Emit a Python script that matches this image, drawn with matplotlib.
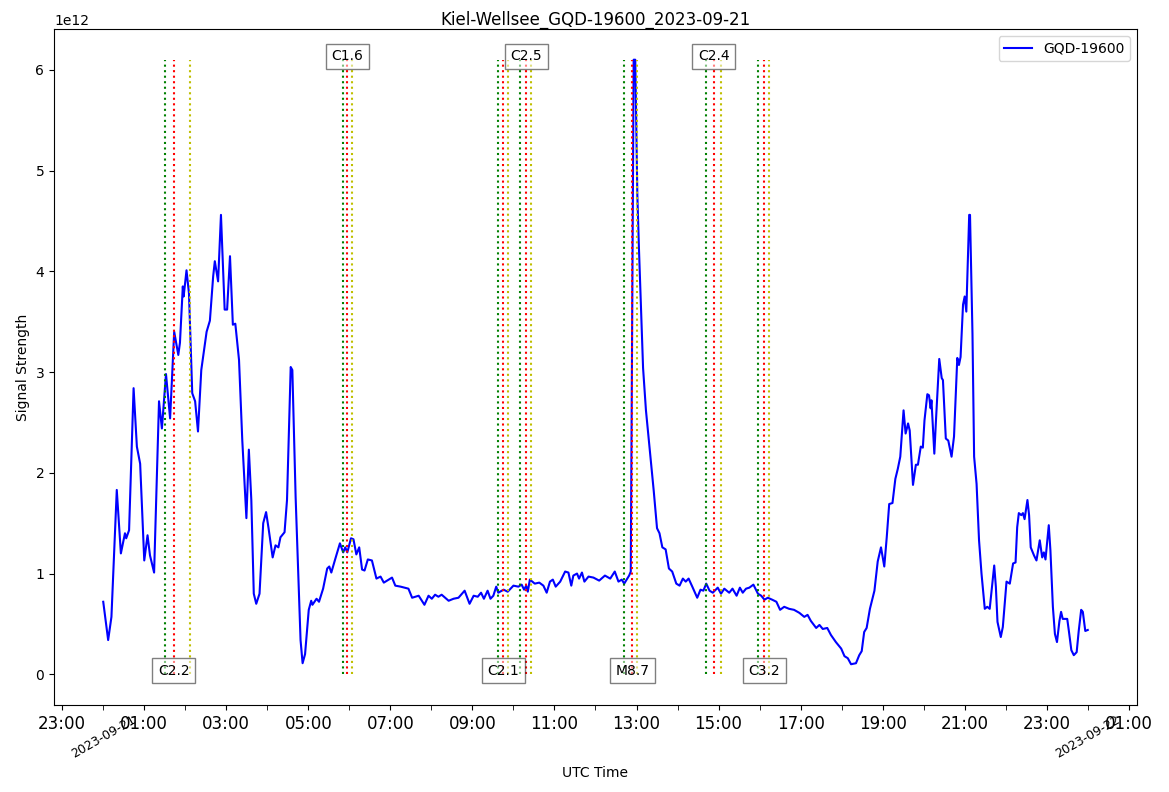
import matplotlib
matplotlib.use("Agg")
import matplotlib.pyplot as plt
import matplotlib.dates as mdates
from matplotlib.ticker import FuncFormatter
from datetime import datetime, timedelta

station = "Kiel-Wellsee"
transmitter = "GQD-19600"
day = datetime(2023, 9, 21)

# hours after midnight UTC and signal strength (x 1e12)
hours = [
    0.00, 0.12, 0.20, 0.33, 0.43, 0.53, 0.56, 0.63, 0.74, 0.82, 0.90, 1.00,
    1.08, 1.14, 1.24, 1.36, 1.43, 1.53, 1.63, 1.73, 1.83, 1.87, 1.94, 1.96,
    2.03, 2.09, 2.17, 2.24, 2.31, 2.39, 2.52, 2.60, 2.68, 2.72, 2.80, 2.87,
    2.96, 3.02, 3.09, 3.16, 3.22, 3.31, 3.39, 3.49, 3.55, 3.61, 3.67, 3.73,
    3.81, 3.90, 3.97, 4.03, 4.13, 4.20, 4.27, 4.32, 4.42, 4.48, 4.57, 4.61,
    4.69, 4.81, 4.86, 4.92, 5.01, 5.07, 5.10, 5.20, 5.26, 5.36, 5.46, 5.51,
    5.56, 5.66, 5.77, 5.85, 5.90, 5.95, 6.04, 6.10, 6.17, 6.24, 6.31, 6.37,
    6.45, 6.55, 6.66, 6.76, 6.84, 7.04, 7.12, 7.25, 7.44, 7.53, 7.69, 7.83,
    7.93, 8.01, 8.09, 8.17, 8.25, 8.42, 8.54, 8.66, 8.81, 8.93, 9.03, 9.13,
    9.21, 9.28, 9.37, 9.44, 9.51, 9.58, 9.63, 9.76, 9.86, 10.00, 10.12, 10.20,
    10.26, 10.31, 10.35, 10.40, 10.52, 10.63, 10.73, 10.81, 10.89, 10.96, 11.03, 11.14,
    11.26, 11.34, 11.41, 11.46, 11.55, 11.60, 11.67, 11.73, 11.83, 11.95, 12.09, 12.23,
    12.36, 12.47, 12.56, 12.64, 12.70, 12.82, 12.86, 12.93, 12.97, 13.02, 13.06, 13.16,
    13.23, 13.32, 13.42, 13.50, 13.56, 13.63, 13.71, 13.79, 13.87, 13.97, 14.05, 14.13,
    14.20, 14.27, 14.36, 14.48, 14.56, 14.63, 14.70, 14.78, 14.86, 14.98, 15.06, 15.14,
    15.26, 15.34, 15.44, 15.52, 15.59, 15.67, 15.75, 15.85, 15.96, 16.04, 16.12, 16.20,
    16.31, 16.41, 16.50, 16.60, 16.72, 16.84, 16.97, 17.09, 17.17, 17.25, 17.38, 17.46,
    17.54, 17.65, 17.74, 17.86, 17.99, 18.07, 18.15, 18.23, 18.35, 18.43, 18.49, 18.55,
    18.61, 18.69, 18.80, 18.88, 18.96, 19.04, 19.10, 19.16, 19.24, 19.31, 19.37, 19.43,
    19.51, 19.56, 19.62, 19.66, 19.74, 19.81, 19.86, 19.93, 19.98, 20.02, 20.09, 20.13,
    20.17, 20.19, 20.26, 20.30, 20.38, 20.44, 20.47, 20.54, 20.60, 20.68, 20.74, 20.82,
    20.86, 20.90, 20.96, 21.00, 21.04, 21.11, 21.13, 21.19, 21.23, 21.29, 21.35, 21.41,
    21.49, 21.55, 21.61, 21.72, 21.76, 21.80, 21.88, 21.93, 22.02, 22.10, 22.18, 22.24,
    22.28, 22.32, 22.38, 22.42, 22.46, 22.53, 22.57, 22.61, 22.69, 22.75, 22.83, 22.89,
    22.93, 22.97, 23.05, 23.09, 23.15, 23.20, 23.25, 23.31, 23.35, 23.39, 23.50, 23.54,
    23.60, 23.66, 23.73, 23.78, 23.84, 23.88, 23.94, 24.00,
]
signal = [
    0.72, 0.34, 0.57, 1.83, 1.20, 1.40, 1.35, 1.43, 2.84, 2.26, 2.09, 1.13,
    1.38, 1.18, 1.01, 2.71, 2.44, 2.98, 2.54, 3.40, 3.17, 3.29, 3.85, 3.75,
    4.01, 3.78, 2.79, 2.71, 2.41, 3.02, 3.40, 3.51, 3.95, 4.10, 3.90, 4.56,
    3.62, 3.62, 4.15, 3.47, 3.48, 3.12, 2.32, 1.55, 2.23, 1.73, 0.80, 0.70,
    0.80, 1.50, 1.61, 1.45, 1.16, 1.28, 1.26, 1.36, 1.41, 1.73, 3.05, 3.02,
    1.76, 0.34, 0.11, 0.20, 0.64, 0.73, 0.69, 0.75, 0.72, 0.85, 1.05, 1.07,
    1.01, 1.15, 1.30, 1.21, 1.26, 1.21, 1.35, 1.34, 1.19, 1.26, 1.04, 1.03,
    1.14, 1.13, 0.95, 0.97, 0.91, 0.96, 0.88, 0.87, 0.85, 0.76, 0.78, 0.69,
    0.78, 0.75, 0.79, 0.77, 0.79, 0.73, 0.75, 0.76, 0.83, 0.70, 0.78, 0.77,
    0.81, 0.75, 0.83, 0.75, 0.78, 0.87, 0.81, 0.84, 0.82, 0.88, 0.87, 0.89,
    0.84, 0.88, 0.82, 0.94, 0.90, 0.91, 0.88, 0.81, 0.92, 0.94, 0.87, 0.92,
    1.02, 1.01, 0.88, 0.98, 1.00, 0.95, 1.01, 0.92, 0.97, 0.96, 0.93, 0.98,
    0.95, 1.02, 0.92, 0.94, 0.90, 0.98, 1.02, 6.10, 6.10, 4.76, 4.22, 3.04,
    2.62, 2.24, 1.82, 1.45, 1.40, 1.26, 1.24, 1.05, 1.02, 0.90, 0.88, 0.95,
    0.92, 0.95, 0.87, 0.76, 0.84, 0.83, 0.90, 0.83, 0.81, 0.86, 0.80, 0.85,
    0.81, 0.85, 0.78, 0.86, 0.81, 0.85, 0.86, 0.89, 0.80, 0.78, 0.74, 0.76,
    0.74, 0.72, 0.64, 0.67, 0.65, 0.64, 0.61, 0.57, 0.59, 0.53, 0.46, 0.49,
    0.45, 0.46, 0.39, 0.32, 0.255, 0.18, 0.16, 0.10, 0.11, 0.19, 0.23, 0.42,
    0.46, 0.65, 0.83, 1.12, 1.26, 1.07, 1.36, 1.69, 1.70, 1.94, 2.04, 2.16,
    2.62, 2.39, 2.49, 2.42, 1.88, 2.08, 2.08, 2.26, 2.25, 2.52, 2.78, 2.77,
    2.64, 2.72, 2.19, 2.52, 3.13, 2.94, 2.92, 2.34, 2.32, 2.16, 2.36, 3.14,
    3.07, 3.15, 3.67, 3.75, 3.60, 4.56, 4.56, 3.38, 2.16, 1.89, 1.33, 1.00,
    0.65, 0.67, 0.65, 1.08, 0.87, 0.52, 0.37, 0.47, 0.92, 0.90, 1.10, 1.11,
    1.46, 1.60, 1.58, 1.60, 1.54, 1.73, 1.58, 1.26, 1.18, 1.13, 1.33, 1.16,
    1.21, 1.14, 1.48, 1.23, 0.67, 0.40, 0.32, 0.53, 0.62, 0.55, 0.55, 0.43,
    0.24, 0.19, 0.22, 0.43, 0.64, 0.62, 0.43, 0.44,
]

# solar flares (GOES class, start / peak / end UTC)
flare_class = ["C2.2", "C1.6", "C2.1", "C2.5", "M8.7", "C2.4", "C3.2"]
flare_start = ["01:31", "05:51", "09:37", "10:10", "12:41", "14:42", "15:58"]
flare_peak = ["01:43", "05:57", "09:45", "10:19", "12:54", "14:53", "16:07"]
flare_end = ["02:07", "06:04", "09:52", "10:25", "13:01", "15:04", "16:14"]


def to_time(hhmm):
    h, m = hhmm.split(":")
    return day + timedelta(hours=int(h), minutes=int(m))


times = [day + timedelta(hours=h) for h in hours]
values = [v * 1e12 for v in signal]
top = max(values)

fig, ax = plt.subplots(figsize=(11.69, 7.92), dpi=100)
fig.subplots_adjust(left=0.0462, right=0.9726, top=0.9634, bottom=0.1098)

ax.plot(times, values, color="b", linewidth=1.5, label=transmitter)

for i, cls in enumerate(flare_class):
    ax.vlines(to_time(flare_start[i]), 0, top, colors="g", linestyles=":")
    ax.vlines(to_time(flare_peak[i]), 0, top, colors="r", linestyles=":")
    ax.vlines(to_time(flare_end[i]), 0, top, colors="y", linestyles=":")
    ypos = 0 if i % 2 == 0 else top
    ax.annotate(cls, (to_time(flare_peak[i]), ypos), xytext=(0, 2.5),
                textcoords="offset points", ha="center", va="center",
                bbox=dict(facecolor="white", alpha=0.5))

ax.xaxis.set_major_locator(mdates.HourLocator(byhour=range(1, 24, 2)))
ax.xaxis.set_major_formatter(mdates.DateFormatter("%H:%M"))
ax.xaxis.set_minor_locator(mdates.HourLocator(byhour=range(0, 24, 2)))


def day_label(x, pos):
    d = mdates.num2date(x)
    return d.strftime("%Y-%m-%d") if d.hour == 0 else ""


ax.xaxis.set_minor_formatter(FuncFormatter(day_label))
ax.tick_params(axis="x", which="major", labelsize=12)
ax.tick_params(axis="x", which="minor", length=3.5, labelsize=9,
               labelrotation=30, pad=2.5)

ax.set_title(f"{station}_{transmitter}_{day:%Y-%m-%d}", pad=0)
ax.set_xlabel("UTC Time")
ax.set_ylabel("Signal Strength")
ax.legend(loc="upper right")

plt.savefig("out.png")
